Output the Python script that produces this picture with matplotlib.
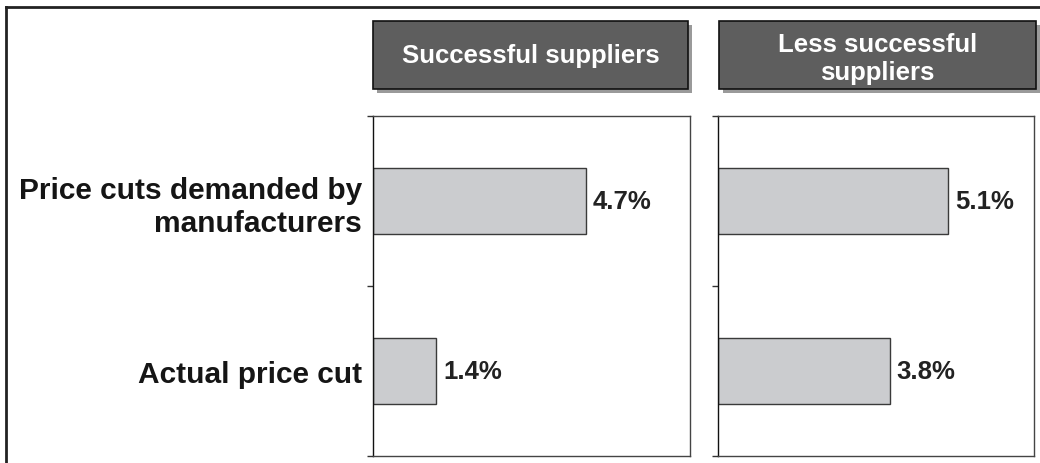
import matplotlib
matplotlib.use('Agg')
import matplotlib.pyplot as plt
from matplotlib.patches import Rectangle
from matplotlib.lines import Line2D

categories = ['Price cuts demanded by\nmanufacturers', 'Actual price cut']
panel_titles = ['Successful suppliers', 'Less successful\nsuppliers']
successful = [4.7, 1.4]
less_successful = [5.1, 3.8]

plt.rcParams['font.family'] = ['Liberation Sans', 'DejaVu Sans']

W, H = 1040, 464
fig = plt.figure(figsize=(W / 100, H / 100), dpi=100)


def fx(px):
    return px / W


def fy(py):
    return 1 - py / H


# outer frame (only left and top edges are inside the picture)
fig.add_artist(Line2D([fx(6), fx(6)], [fy(8), 0], transform=fig.transFigure,
                      color='#222222', lw=2))
fig.add_artist(Line2D([fx(6), 1], [fy(8), fy(8)], transform=fig.transFigure,
                      color='#222222', lw=2))

panels = [
    (373, 690, successful, panel_titles[0], (373, 688)),
    (718, 1034, less_successful, panel_titles[1], (719, 1036)),
]

for i, (x0, x1, values, title, (hx0, hx1)) in enumerate(panels):
    ax = fig.add_axes([fx(x0), fy(457), fx(x1 - x0), (457 - 117) / H])
    pos = list(range(len(values)))
    ax.barh(pos, values, height=0.39, color='#cbcccf', edgecolor='#3a3a3a', lw=1)
    ax.set_xlim(0, 7)
    ax.set_ylim(1.5, -0.5)
    for p, v in zip(pos, values):
        ax.text(v + 0.15, p, f'{v:.1f}%', va='center', ha='left',
                fontsize=18.5, fontweight='bold', color='#222222')
    ax.set_xticks([])
    ax.set_yticks([-0.5, 0.5, 1.5])
    ax.set_yticklabels([])
    ax.tick_params(axis='y', which='major', direction='out', length=4,
                   width=1, color='#333333')
    if i == 0:
        ax.set_yticks(pos, minor=True)
        ax.set_yticklabels(categories, minor=True, fontsize=21.5,
                           fontweight='bold', color='#151515',
                           multialignment='right', linespacing=1.25)
        ax.tick_params(axis='y', which='minor', length=0, pad=8)
    else:
        ax.set_yticks([], minor=True)
    for s in ax.spines.values():
        s.set_color('#444444')
        s.set_linewidth(1)
    ax.spines['left'].set_color('#111111')

    # header box with shadow
    hx, hy = fx(hx0), fy(90)
    hw, hh = fx(hx1 - hx0), (90 - 22) / H
    fig.add_artist(Rectangle((hx + fx(4), hy - 4 / H), hw, hh,
                             transform=fig.transFigure, facecolor='#9a9a9a',
                             edgecolor='none'))
    fig.add_artist(Rectangle((hx, hy), hw, hh, transform=fig.transFigure,
                             facecolor='#5e5e5e', edgecolor='#111111', lw=1.2))
    ty = hy + hh / 2 - (0 if i == 0 else 3 / H)
    fig.text(hx + hw / 2, ty, title, ha='center', va='center',
             color='white', fontsize=18.5, fontweight='bold', linespacing=1.25)

fig.savefig('out.png', dpi=100)
